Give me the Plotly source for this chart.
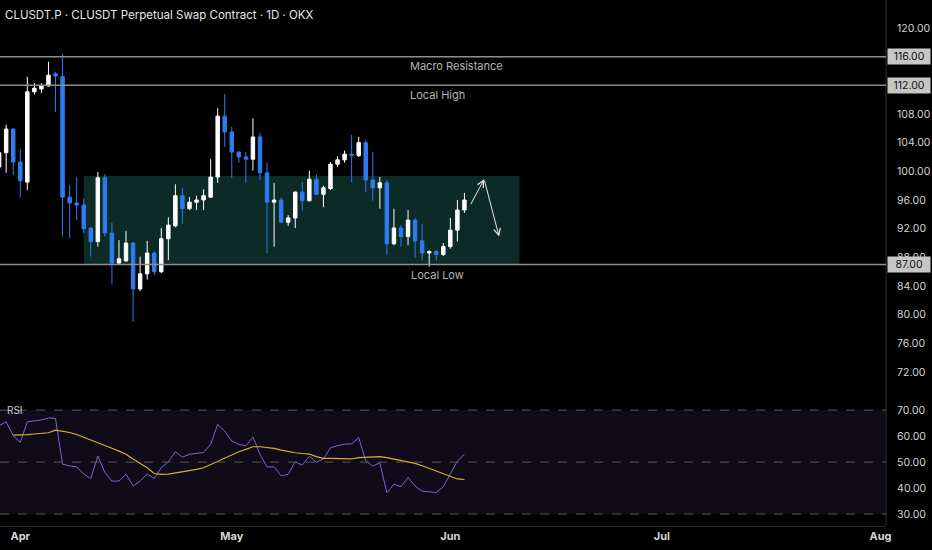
import plotly.graph_objects as go
import pandas as pd

# daily candles, 29 Mar -> 3 Jun
start_day = "2025-03-29"
open_p = [100.6, 102.6, 105.9, 101.3, 98.5, 111.1, 111.5, 111.9, 113.6, 113.2,
          96.4, 95.6, 95.3, 92.1, 90.2, 99.1, 91.4, 87.2, 87.5, 90.0,
          83.6, 85.7, 88.6, 86.0, 90.6, 92.4, 96.6, 94.8, 95.7, 96.0,
          96.4, 99.2, 107.7, 105.5, 102.7, 102.0, 101.7, 104.8, 99.8, 95.7,
          96.0, 92.9, 93.5, 97.1, 95.9, 98.9, 96.8, 97.6, 101.0, 101.6,
          102.4, 102.2, 104.0, 98.8, 97.7, 98.4, 89.9, 92.1, 90.9, 93.2,
          90.3, 88.6, 88.8, 88.4, 89.5, 91.8, 94.6]
high_p = [104.0, 106.5, 106.0, 103.1, 113.2, 112.3, 112.3, 115.3, 113.9, 116.4,
          98.1, 99.2, 96.2, 92.2, 99.9, 99.6, 92.8, 90.4, 91.7, 90.1,
          88.1, 90.3, 88.8, 92.1, 93.6, 98.2, 97.7, 96.4, 96.6, 97.5,
          101.7, 108.8, 110.8, 106.2, 102.8, 102.7, 107.4, 105.4, 101.2, 98.4,
          96.4, 93.9, 97.2, 98.5, 100.1, 99.6, 98.0, 101.3, 102.1, 102.9,
          105.1, 104.8, 104.4, 102.7, 99.2, 98.8, 94.8, 92.5, 94.6, 93.5,
          92.7, 89.0, 89.0, 90.0, 93.5, 96.0, 97.0]
low_p = [99.9, 99.8, 99.5, 96.4, 97.4, 110.7, 110.9, 111.8, 108.3, 90.9,
         90.7, 93.2, 91.4, 88.1, 89.5, 90.9, 84.2, 87.1, 87.4, 79.0,
         83.3, 84.9, 85.5, 85.8, 87.6, 92.2, 92.7, 94.6, 94.6, 94.6,
         96.3, 98.4, 103.4, 99.1, 101.2, 98.4, 100.1, 98.8, 88.6, 89.5,
         92.8, 92.4, 92.1, 94.5, 95.8, 96.7, 95.0, 97.4, 100.6, 101.2,
         98.5, 102.0, 97.1, 95.9, 94.8, 88.3, 89.7, 89.5, 89.7, 87.9,
         87.6, 86.7, 87.6, 88.2, 89.2, 90.2, 94.2]
close_p = [102.6, 105.9, 101.3, 98.7, 111.1, 111.6, 111.9, 113.4, 113.3, 96.4,
           95.6, 95.3, 92.0, 90.2, 99.1, 91.4, 87.2, 87.8, 90.0, 83.6,
           85.7, 88.6, 86.0, 90.6, 92.5, 96.6, 94.8, 95.7, 96.0, 96.6,
           99.2, 107.7, 105.5, 102.7, 102.0, 101.7, 104.8, 99.8, 95.7, 96.0,
           92.9, 93.5, 97.1, 95.9, 98.9, 96.8, 97.7, 101.0, 101.6, 102.4,
           102.2, 104.0, 98.8, 97.7, 98.4, 89.9, 92.1, 90.9, 93.2, 90.3,
           88.6, 88.8, 88.4, 89.5, 91.8, 94.6, 96.0]

rsi = [64.0, 65.5, 60.1, 57.6, 65.5, 65.9, 66.2, 67.0, 66.8, 49.2,
       48.5, 48.2, 45.4, 43.7, 52.3, 46.0, 42.7, 42.7, 45.4, 40.8,
       42.7, 45.4, 43.7, 47.8, 50.1, 54.0, 51.9, 53.0, 53.3, 53.7,
       56.8, 64.5, 61.9, 58.1, 56.8, 56.3, 59.6, 53.0, 48.1, 48.2,
       44.7, 45.3, 50.1, 48.8, 52.3, 49.9, 51.2, 55.5, 56.3, 56.9,
       57.0, 59.4, 50.5, 48.5, 49.7, 38.2, 41.5, 40.5, 44.1, 40.8,
       38.8, 38.6, 38.3, 40.5, 45.6, 50.4, 53.0]
# RSI moving average starts two bars later
rsi_ma = [60.4, 60.4, 60.6, 60.8, 61.0, 61.3, 62.3, 61.9, 61.4, 60.6,
          59.6, 58.5, 57.6, 56.5, 55.3, 54.2, 53.0, 51.2, 49.5, 47.8,
          45.6, 45.3, 45.4, 45.8, 46.3, 46.8, 47.2, 47.8, 49.1, 50.4,
          51.7, 53.0, 54.0, 54.9, 55.9, 55.9, 55.6, 55.3, 54.6, 54.0,
          53.6, 53.3, 53.1, 52.1, 51.4, 51.4, 51.4, 51.4, 51.2, 51.7,
          51.8, 51.9, 52.1, 51.7, 51.2, 50.6, 50.1, 49.5, 48.6, 47.6,
          46.5, 45.4, 44.4, 43.5, 43.3]

levels = [116.0, 112.0, 87.0]
zone = {"start": "2025-04-10", "end": "2025-06-10 19:00", "low": 87.0, "high": 99.35}
# 116 and 112 sit under the level tags, so they are left out
price_ticks = [72, 76, 80, 84, 88, 92, 96, 100, 104, 108, 120]
rsi_ticks = [30, 40, 50, 60, 70]
month_ticks = ["2025-04-01", "2025-05-01", "2025-06-01", "2025-07-01", "2025-08-01"]
month_labels = ["Apr", "May", "Jun", "Jul", "Aug"]
# projected path: (date, price)
path = [("2025-06-03 19:00", 95.2), ("2025-06-05 19:00", 98.9), ("2025-06-07 22:00", 90.9)]

dates = pd.date_range(start_day, periods=len(open_p), freq="D")

UP = "#ffffff"
DOWN = "#2f7cf0"
TXT = "#d4d4d4"
FONT = "Inter"

fig = go.Figure()
fig.add_trace(go.Candlestick(
    x=dates, open=open_p, high=high_p, low=low_p, close=close_p,
    increasing=dict(line=dict(color=UP, width=1), fillcolor=UP),
    decreasing=dict(line=dict(color=DOWN, width=1), fillcolor=DOWN),
    whiskerwidth=0, yaxis="y", xaxis="x", showlegend=False, hoverinfo="skip"))
fig.add_trace(go.Scatter(
    x=dates, y=rsi, mode="lines", line=dict(color="#7a68d0", width=1),
    yaxis="y2", xaxis="x", showlegend=False, hoverinfo="skip"))
fig.add_trace(go.Scatter(
    x=dates[2:], y=rsi_ma, mode="lines", line=dict(color="#d6b22c", width=1.2),
    yaxis="y2", xaxis="x", showlegend=False, hoverinfo="skip"))

shapes = [
    dict(type="rect", xref="x", yref="y", x0=zone["start"], x1=zone["end"],
         y0=zone["low"], y1=zone["high"], fillcolor="#0c2a26",
         line=dict(width=0), layer="below"),
    dict(type="rect", xref="paper", yref="y2", x0=0, x1=1, y0=30, y1=70,
         fillcolor="#0f0b18", line=dict(width=0), layer="below"),
    dict(type="line", xref="paper", yref="paper", x0=1, x1=1, y0=0, y1=1,
         line=dict(color="#2e2e2e", width=1)),
]
for lv in levels:
    shapes.append(dict(type="line", xref="paper", yref="y", x0=0, x1=1, y0=lv, y1=lv,
                       line=dict(color="#8e8e8e", width=1.5)))
for lv in [70, 50, 30]:
    shapes.append(dict(type="line", xref="paper", yref="y2", x0=0, x1=1, y0=lv, y1=lv,
                       line=dict(color="#5a5a5a", width=1, dash="dash")))

annotations = [
    dict(text="CLUSDT.P · CLUSDT Perpetual Swap Contract · 1D · OKX", xref="paper", yref="paper",
         x=0, y=1, xanchor="left", yanchor="top", xshift=3, yshift=-6, showarrow=False,
         font=dict(color="#e6e6e6", size=11.5, family=FONT)),
    dict(text="RSI", xref="paper", yref="y2", x=0, y=70, xanchor="left", yanchor="middle",
         xshift=5, showarrow=False, font=dict(color="#cfcfcf", size=10, family=FONT)),
    dict(text="Macro Resistance", xref="x", yref="y", x="2025-06-01 22:00", y=114.7,
         showarrow=False, font=dict(color="#b5b5b5", size=11, family=FONT)),
    dict(text="Local High", xref="x", yref="y", x="2025-05-30 05:00", y=110.7,
         showarrow=False, font=dict(color="#b5b5b5", size=11, family=FONT)),
    dict(text="Local Low", xref="x", yref="y", x="2025-05-30 05:00", y=85.5,
         showarrow=False, font=dict(color="#b5b5b5", size=11, family=FONT)),
]
for lv in levels:
    annotations.append(dict(text=f"{lv:.2f}", xref="paper", yref="y", x=1, y=lv,
                            xanchor="left", yanchor="middle", xshift=1, showarrow=False,
                            bgcolor="#c6c6c6", borderpad=1, width=40,
                            font=dict(color="#111111", size=10.5, family=FONT)))
for (x0, y0), (x1, y1) in zip(path[:-1], path[1:]):
    annotations.append(dict(text="", xref="x", yref="y", x=x1, y=y1, axref="x", ayref="y",
                            ax=x0, ay=y0, showarrow=True, arrowhead=5, arrowsize=1.3,
                            arrowwidth=1, arrowcolor="#e6e6e6", standoff=0))

fig.update_layout(
    width=932, height=550,
    margin=dict(l=0, r=46, t=0, b=24),
    paper_bgcolor="#000000", plot_bgcolor="#000000",
    boxgap=0.3,
    font=dict(family=FONT, color=TXT),
    shapes=shapes, annotations=annotations,
    xaxis=dict(type="date", range=["2025-03-29 03:00", "2025-08-01 19:00"], anchor="y2",
               rangeslider=dict(visible=False), showgrid=False, zeroline=False,
               tickvals=month_ticks, ticktext=month_labels, ticks="",
               tickfont=dict(size=11, color=TXT, family=FONT, weight="bold"),
               showline=True, linecolor="#2e2e2e", linewidth=1),
    yaxis=dict(domain=[0.249, 1], range=[68.8, 123.9], side="right", showgrid=False,
               zeroline=False, tickvals=price_ticks,
               ticktext=[f"{t:.2f}" for t in price_ticks],
               ticks="outside", ticklen=8, tickcolor="#000000",
               tickfont=dict(size=10.5, color=TXT, family=FONT)),
    yaxis2=dict(domain=[0, 0.245], range=[25.4, 75], side="right", showgrid=False,
                zeroline=False, tickvals=rsi_ticks,
                ticktext=[f"{t:.2f}" for t in rsi_ticks],
                ticks="outside", ticklen=8, tickcolor="#000000",
                tickfont=dict(size=10.5, color=TXT, family=FONT)),
)

# page has a default 8px body margin; drop it so the figure fills the window
fig.write_html("out.html", config={"displayModeBar": False},
               post_script="document.body.style.margin='0';document.body.style.background='#000';")
